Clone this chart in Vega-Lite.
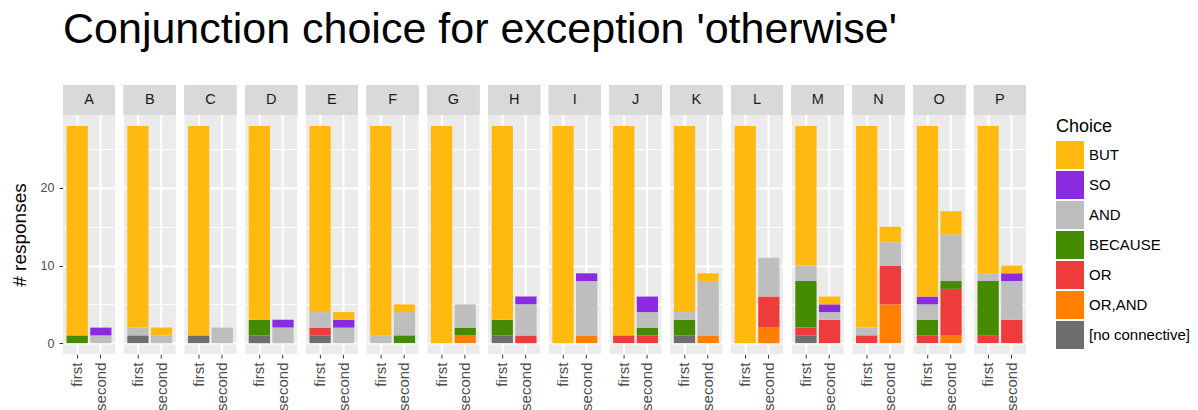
{
  "$schema": "https://vega.github.io/schema/vega-lite/v6.json",
  "autosize": {"type": "pad"},
  "padding": {"left": 10, "top": 9, "right": 5, "bottom": 5},
  "title": {"text": "Conjunction choice for exception 'otherwise'", "anchor": "start", "frame": "group", "fontSize": 43, "font": "Liberation Sans", "fontWeight": "normal", "color": "#000000", "baseline": "alphabetic", "offset": -1},
  "data": {"values": [
    {"panel":"A","bar":"first","choice":"BECAUSE","n":1,"level":4},
    {"panel":"A","bar":"first","choice":"BUT","n":27,"level":1},
    {"panel":"A","bar":"second","choice":"AND","n":1,"level":3},
    {"panel":"A","bar":"second","choice":"SO","n":1,"level":2},
    {"panel":"B","bar":"first","choice":"[no connective]","n":1,"level":7},
    {"panel":"B","bar":"first","choice":"AND","n":1,"level":3},
    {"panel":"B","bar":"first","choice":"BUT","n":26,"level":1},
    {"panel":"B","bar":"second","choice":"AND","n":1,"level":3},
    {"panel":"B","bar":"second","choice":"BUT","n":1,"level":1},
    {"panel":"C","bar":"first","choice":"[no connective]","n":1,"level":7},
    {"panel":"C","bar":"first","choice":"BUT","n":27,"level":1},
    {"panel":"C","bar":"second","choice":"AND","n":2,"level":3},
    {"panel":"D","bar":"first","choice":"[no connective]","n":1,"level":7},
    {"panel":"D","bar":"first","choice":"BECAUSE","n":2,"level":4},
    {"panel":"D","bar":"first","choice":"BUT","n":25,"level":1},
    {"panel":"D","bar":"second","choice":"AND","n":2,"level":3},
    {"panel":"D","bar":"second","choice":"SO","n":1,"level":2},
    {"panel":"E","bar":"first","choice":"[no connective]","n":1,"level":7},
    {"panel":"E","bar":"first","choice":"OR","n":1,"level":5},
    {"panel":"E","bar":"first","choice":"AND","n":2,"level":3},
    {"panel":"E","bar":"first","choice":"BUT","n":24,"level":1},
    {"panel":"E","bar":"second","choice":"AND","n":2,"level":3},
    {"panel":"E","bar":"second","choice":"SO","n":1,"level":2},
    {"panel":"E","bar":"second","choice":"BUT","n":1,"level":1},
    {"panel":"F","bar":"first","choice":"AND","n":1,"level":3},
    {"panel":"F","bar":"first","choice":"BUT","n":27,"level":1},
    {"panel":"F","bar":"second","choice":"BECAUSE","n":1,"level":4},
    {"panel":"F","bar":"second","choice":"AND","n":3,"level":3},
    {"panel":"F","bar":"second","choice":"BUT","n":1,"level":1},
    {"panel":"G","bar":"first","choice":"BUT","n":28,"level":1},
    {"panel":"G","bar":"second","choice":"OR,AND","n":1,"level":6},
    {"panel":"G","bar":"second","choice":"BECAUSE","n":1,"level":4},
    {"panel":"G","bar":"second","choice":"AND","n":3,"level":3},
    {"panel":"H","bar":"first","choice":"[no connective]","n":1,"level":7},
    {"panel":"H","bar":"first","choice":"BECAUSE","n":2,"level":4},
    {"panel":"H","bar":"first","choice":"BUT","n":25,"level":1},
    {"panel":"H","bar":"second","choice":"OR","n":1,"level":5},
    {"panel":"H","bar":"second","choice":"AND","n":4,"level":3},
    {"panel":"H","bar":"second","choice":"SO","n":1,"level":2},
    {"panel":"I","bar":"first","choice":"BUT","n":28,"level":1},
    {"panel":"I","bar":"second","choice":"OR,AND","n":1,"level":6},
    {"panel":"I","bar":"second","choice":"AND","n":7,"level":3},
    {"panel":"I","bar":"second","choice":"SO","n":1,"level":2},
    {"panel":"J","bar":"first","choice":"OR","n":1,"level":5},
    {"panel":"J","bar":"first","choice":"BUT","n":27,"level":1},
    {"panel":"J","bar":"second","choice":"OR","n":1,"level":5},
    {"panel":"J","bar":"second","choice":"BECAUSE","n":1,"level":4},
    {"panel":"J","bar":"second","choice":"AND","n":2,"level":3},
    {"panel":"J","bar":"second","choice":"SO","n":2,"level":2},
    {"panel":"K","bar":"first","choice":"[no connective]","n":1,"level":7},
    {"panel":"K","bar":"first","choice":"BECAUSE","n":2,"level":4},
    {"panel":"K","bar":"first","choice":"AND","n":1,"level":3},
    {"panel":"K","bar":"first","choice":"BUT","n":24,"level":1},
    {"panel":"K","bar":"second","choice":"OR,AND","n":1,"level":6},
    {"panel":"K","bar":"second","choice":"AND","n":7,"level":3},
    {"panel":"K","bar":"second","choice":"BUT","n":1,"level":1},
    {"panel":"L","bar":"first","choice":"BUT","n":28,"level":1},
    {"panel":"L","bar":"second","choice":"OR,AND","n":2,"level":6},
    {"panel":"L","bar":"second","choice":"OR","n":4,"level":5},
    {"panel":"L","bar":"second","choice":"AND","n":5,"level":3},
    {"panel":"M","bar":"first","choice":"[no connective]","n":1,"level":7},
    {"panel":"M","bar":"first","choice":"OR","n":1,"level":5},
    {"panel":"M","bar":"first","choice":"BECAUSE","n":6,"level":4},
    {"panel":"M","bar":"first","choice":"AND","n":2,"level":3},
    {"panel":"M","bar":"first","choice":"BUT","n":18,"level":1},
    {"panel":"M","bar":"second","choice":"OR","n":3,"level":5},
    {"panel":"M","bar":"second","choice":"AND","n":1,"level":3},
    {"panel":"M","bar":"second","choice":"SO","n":1,"level":2},
    {"panel":"M","bar":"second","choice":"BUT","n":1,"level":1},
    {"panel":"N","bar":"first","choice":"OR","n":1,"level":5},
    {"panel":"N","bar":"first","choice":"AND","n":1,"level":3},
    {"panel":"N","bar":"first","choice":"BUT","n":26,"level":1},
    {"panel":"N","bar":"second","choice":"OR,AND","n":5,"level":6},
    {"panel":"N","bar":"second","choice":"OR","n":5,"level":5},
    {"panel":"N","bar":"second","choice":"AND","n":3,"level":3},
    {"panel":"N","bar":"second","choice":"BUT","n":2,"level":1},
    {"panel":"O","bar":"first","choice":"OR","n":1,"level":5},
    {"panel":"O","bar":"first","choice":"BECAUSE","n":2,"level":4},
    {"panel":"O","bar":"first","choice":"AND","n":2,"level":3},
    {"panel":"O","bar":"first","choice":"SO","n":1,"level":2},
    {"panel":"O","bar":"first","choice":"BUT","n":22,"level":1},
    {"panel":"O","bar":"second","choice":"OR,AND","n":1,"level":6},
    {"panel":"O","bar":"second","choice":"OR","n":6,"level":5},
    {"panel":"O","bar":"second","choice":"BECAUSE","n":1,"level":4},
    {"panel":"O","bar":"second","choice":"AND","n":6,"level":3},
    {"panel":"O","bar":"second","choice":"BUT","n":3,"level":1},
    {"panel":"P","bar":"first","choice":"OR","n":1,"level":5},
    {"panel":"P","bar":"first","choice":"BECAUSE","n":7,"level":4},
    {"panel":"P","bar":"first","choice":"AND","n":1,"level":3},
    {"panel":"P","bar":"first","choice":"BUT","n":19,"level":1},
    {"panel":"P","bar":"second","choice":"OR","n":3,"level":5},
    {"panel":"P","bar":"second","choice":"AND","n":5,"level":3},
    {"panel":"P","bar":"second","choice":"SO","n":1,"level":2},
    {"panel":"P","bar":"second","choice":"BUT","n":1,"level":1}
  ]},
  "facet": {"column": {"field": "panel", "type": "nominal", "header": {"title": null, "labels": false}}},
  "spacing": 8.73,
  "spec": {
    "width": 52,
    "height": 269,
    "layer": [
      {
        "mark": {"type": "bar"},
        "encoding": {
          "x": {"field": "bar", "type": "nominal", "title": null,
                "scale": {"paddingInner": 0.1, "paddingOuter": 0.15},
                "axis": {"labelAngle": 270, "labelAlign": "right", "labelBaseline": "middle", "labelPadding": 4,
                         "labelFontSize": 15, "labelColor": "#4D4D4D", "labelFont": "Liberation Sans",
                         "tickColor": "#333333", "tickSize": 4, "tickWidth": 1, "domain": false,
                         "grid": true, "gridColor": "#FFFFFF", "gridWidth": 2, "bandPosition": 0.5}},
          "y": {"field": "n", "type": "quantitative", "title": "# responses",
                "scale": {"domain": [-1.4, 33.27], "nice": false, "zero": false},
                "axis": {"values": [0, 5, 10, 15, 20, 25],
                         "labelExpr": "datum.value % 10 === 0 ? datum.label : ''",
                         "labelFontSize": 12.6, "labelColor": "#4D4D4D", "labelFont": "Liberation Sans", "labelPadding": 5,
                         "tickColor": "#333333", "tickSize": 4, "tickWidth": 1,
                         "tickOpacity": {"condition": {"test": "datum.value % 10 === 0", "value": 1}, "value": 0},
                         "domain": false, "grid": true, "gridColor": "#FFFFFF",
                         "gridWidth": {"condition": {"test": "datum.value % 10 === 0", "value": 2}, "value": 1},
                         "titleFontSize": 19, "titleFont": "Liberation Sans", "titleFontWeight": "normal", "titleColor": "#000000", "titlePadding": 10, "titleY": 149.5}},
          "color": {"field": "choice", "type": "nominal", "title": "Choice",
                    "scale": {"domain": ["BUT", "SO", "AND", "BECAUSE", "OR", "OR,AND", "[no connective]"],
                              "range": ["#FFB90F", "#8A2BE2", "#BEBEBE", "#458B00", "#EE3B3B", "#FF7F00", "#6E6E6E"]},
                    "legend": {"orient": "none", "legendX": 993, "legendY": 33,
                               "titleFontSize": 18, "titleFont": "Liberation Sans", "titleFontWeight": "normal", "titleColor": "#000000", "titlePadding": 5,
                               "labelFontSize": 15, "labelFont": "Liberation Sans", "labelColor": "#000000", "labelOffset": 5,
                               "symbolType": "square", "symbolSize": 784, "symbolStrokeWidth": 0, "symbolOpacity": 1, "rowPadding": 2}},
          "order": {"field": "level", "sort": "descending"}
        }
      },
      {
        "mark": {"type": "rect", "color": "#D9D9D9"},
        "encoding": {
          "y": {"datum": 29.4, "type": "quantitative", "title": "# responses"},
          "y2": {"datum": 33.27}
        }
      },
      {
        "transform": [{"aggregate": [{"op": "count", "as": "cnt"}], "groupby": ["panel"]}],
        "mark": {"type": "text", "fontSize": 14.5, "font": "Liberation Sans", "color": "#1A1A1A", "baseline": "middle", "align": "center"},
        "encoding": {
          "y": {"datum": 31.33, "type": "quantitative", "title": "# responses"},
          "text": {"field": "panel", "type": "nominal"}
        }
      }
    ]
  },
  "config": {
    "view": {"fill": "#EBEBEB", "stroke": null},
    "font": "Liberation Sans"
  }
}
